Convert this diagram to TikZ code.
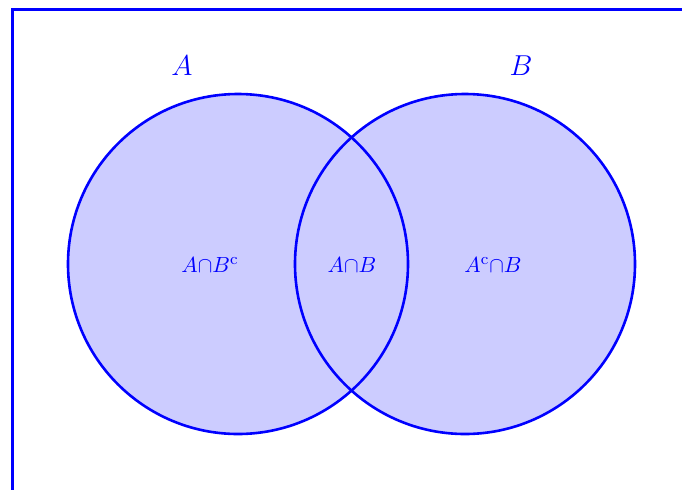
\documentclass[tikz,border=0pt]{standalone}
\usepackage{tikz}
\usetikzlibrary{positioning}

\begin{document}
\begin{tikzpicture}[
    x=0.5pt, y=-0.5pt,
    setfill/.style={fill=blue!20},
    setline/.style={draw=blue, line width=1.3pt, circle, minimum size=170pt, inner sep=0pt},
    setname/.style={text=blue, font=\fontsize{15}{18}\selectfont},
    region/.style={text=blue, font=\fontsize{10.8}{13}\selectfont},
    frame/.style={draw=blue, line width=1.5pt},
]
    \useasboundingbox (0,0) rectangle (682,489);
    \clip (0,0) rectangle (682,489);

    % universe frame
    \draw[frame] (12,500) -- (12,9.5) -- (700,9.5);

    % filled sets
    \fill[setfill] (238,264) circle[radius=170];
    \fill[setfill] (465,264) circle[radius=170];
    \node[setline] (setA) at (238,264) {};
    \node[setline] (setB) at (465,264) {};

    \node[setname] (labA) at (182,66) {$A$};
    \node[setname] (labB) at (521,66) {$B$};

    \node[region] (onlyA) at (210,265) {$A{\cap}B^{\mathrm{c}}$};
    \node[region] (both) at (352,265) {$A{\cap}B$};
    \node[region] (onlyB) at (493,265) {$A^{\mathrm{c}}{\cap}B$};
\end{tikzpicture}
\end{document}
